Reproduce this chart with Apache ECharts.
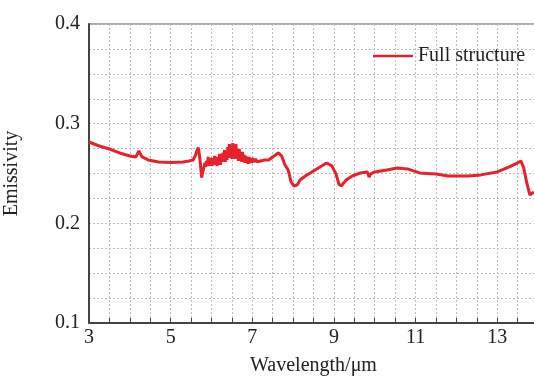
<!DOCTYPE html>
<html>
<head>
<meta charset="utf-8">
<script src="https://cdn.jsdelivr.net/npm/echarts@6/dist/echarts.min.js"></script>
<style>
  html, body { margin: 0; padding: 0; background: #fff; }
  #chart { width: 534px; height: 378px; }
</style>
</head>
<body>
<div id="chart"></div>
<script>
// wavelength (um) and emissivity
const wavelength = [
  3.00, 3.25, 3.50, 3.75, 4.00, 4.15, 4.22, 4.30, 4.45, 4.70, 5.00, 5.30, 5.45, 5.55,
  5.60, 5.65, 5.68, 5.72, 5.76, 5.80,
  5.84, 5.86, 5.88, 5.90, 5.92, 5.94, 5.96, 5.98, 6.00, 6.02, 6.04, 6.06, 6.08, 6.10,
  6.12, 6.14, 6.16, 6.18, 6.20, 6.22, 6.24, 6.26, 6.28, 6.30, 6.32, 6.34, 6.36, 6.38,
  6.40, 6.42, 6.44, 6.46, 6.48, 6.50, 6.52, 6.54, 6.56, 6.58, 6.60, 6.62, 6.64, 6.66,
  6.68, 6.70, 6.72, 6.74, 6.76, 6.78, 6.80, 6.82, 6.84, 6.86, 6.88, 6.90, 6.92, 6.94,
  6.96, 6.98, 7.00, 7.04, 7.08, 7.12, 7.16, 7.20, 7.30, 7.40, 7.50,
  7.60, 7.65, 7.72, 7.80, 7.88, 7.95, 8.02, 8.10, 8.17, 8.30, 8.50, 8.70, 8.82,
  8.95, 9.05, 9.12, 9.18, 9.30, 9.45, 9.65, 9.82, 9.86, 9.90, 10.0, 10.3, 10.55, 10.8,
  10.95, 11.1, 11.5, 11.8, 12.3, 12.6, 13.0, 13.3, 13.5, 13.58, 13.65, 13.72, 13.8, 13.9
];
const emissivity = [
  0.2816, 0.2776, 0.2746, 0.2706, 0.2676, 0.2666, 0.2726, 0.2666, 0.2636, 0.2616, 0.2610, 0.2616, 0.2626, 0.2636,
  0.2676, 0.2736, 0.2760, 0.2636, 0.2460, 0.2535,
  0.2606, 0.2566, 0.2626, 0.2586, 0.2666, 0.2576, 0.2636, 0.2596, 0.2656, 0.2576, 0.2646, 0.2596, 0.2676, 0.2586,
  0.2636, 0.2576, 0.2666, 0.2606, 0.2696, 0.2586, 0.2656, 0.2616, 0.2706, 0.2626, 0.2736, 0.2616, 0.2686, 0.2636,
  0.2766, 0.2656, 0.2796, 0.2676, 0.2746, 0.2646, 0.2806, 0.2686, 0.2756, 0.2646, 0.2796, 0.2666, 0.2726, 0.2626,
  0.2746, 0.2646, 0.2706, 0.2616, 0.2716, 0.2636, 0.2686, 0.2606, 0.2676, 0.2616, 0.2656, 0.2596, 0.2666, 0.2616,
  0.2646, 0.2606, 0.2656, 0.2616, 0.2646, 0.2616, 0.2636, 0.2626, 0.2636, 0.2636, 0.2666,
  0.2696, 0.2706, 0.2676, 0.2586, 0.2535, 0.2415, 0.2375, 0.2385, 0.2435, 0.2475, 0.2526, 0.2576, 0.2606,
  0.2576, 0.2496, 0.2395, 0.2375, 0.2435, 0.2475, 0.2505, 0.2516, 0.2465, 0.2496, 0.2516, 0.2536, 0.2556, 0.2546,
  0.2526, 0.2506, 0.2496, 0.2475, 0.2476, 0.2486, 0.2516, 0.2566, 0.2606, 0.2626, 0.2556, 0.2415, 0.2285, 0.2315
];
const xLabels = [3, 5, 7, 9, 11, 13];
const seriesName = 'Full structure';

const font = 'Liberation Serif';
const gridLine = { show: true, lineStyle: { color: '#bdbdbd', type: [2, 2], width: 1 } };

const chart = echarts.init(document.getElementById('chart'));
chart.setOption({
  animation: false,
  textStyle: { fontFamily: font },
  grid: {
    left: 89, top: 24, right: -4, bottom: 55,
    outerBoundsMode: 'none', containLabel: false,
    show: true, borderColor: '#555', borderWidth: 1
  },
  legend: {
    left: 368, top: 41,
    itemWidth: 40, itemHeight: 14, itemGap: 10,
    textStyle: { fontFamily: font, fontSize: 20, color: '#222' },
    data: [{ name: seriesName, icon: 'path://M0,0 L40,0 L40,2.5 L0,2.5 Z' }]
  },
  xAxis: {
    type: 'value', min: 3, max: 14, interval: 1,
    name: 'Wavelength/μm', nameLocation: 'middle', nameGap: 33,
    nameTextStyle: { fontFamily: font, fontSize: 20, color: '#222' },
    axisLine: { lineStyle: { color: '#444', width: 2 } },
    axisTick: { show: true, inside: true, length: 5, lineStyle: { color: '#444' } },
    minorTick: { show: true, splitNumber: 2, length: 5, lineStyle: { color: '#444' } },
    axisLabel: {
      fontFamily: font, fontSize: 20, color: '#222', margin: 5,
      formatter: v => xLabels.includes(v) ? String(v) : ''
    },
    splitLine: gridLine,
    minorSplitLine: gridLine
  },
  yAxis: {
    type: 'value', min: 0.1, max: 0.4, interval: 0.1,
    name: 'Emissivity', nameLocation: 'middle', nameGap: 67,
    nameTextStyle: { fontFamily: font, fontSize: 20, color: '#222' },
    axisLine: { show: true, lineStyle: { color: '#444', width: 2 } },
    axisTick: { show: false },
    axisLabel: {
      fontFamily: font, fontSize: 20, color: '#222', margin: 9,
      formatter: v => v.toFixed(1)
    },
    splitLine: gridLine,
    minorTick: { show: false, splitNumber: 4 },
    minorSplitLine: gridLine
  },
  series: [{
    name: seriesName,
    type: 'line',
    symbol: 'none',
    data: wavelength.map((w, i) => [w, emissivity[i]]),
    lineStyle: { color: '#e8212b', width: 3 },
    itemStyle: { color: '#e8212b' }
  }]
});
</script>
</body>
</html>
